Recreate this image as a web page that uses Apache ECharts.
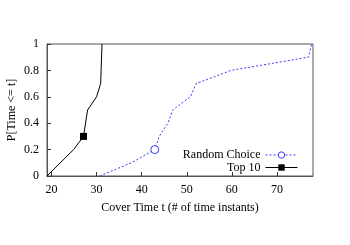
<!DOCTYPE html>
<html>
<head>
<meta charset="utf-8">
<script src="https://cdn.jsdelivr.net/npm/echarts@6/dist/echarts.min.js"></script>
<style>html,body{margin:0;padding:0;background:#fff;}#c{width:350px;height:245px;}</style>
</head>
<body>
<div id="c"></div>
<script>
var seriesNames = ['Random Choice', 'Top 10'];
var randX = [30.7, 37.7, 42.9, 43.9, 45.8, 46.9, 50.8, 52.1, 59.8, 77.0, 77.7];
var randY = [0, 0.1, 0.2, 0.3, 0.4, 0.5, 0.6, 0.7, 0.8, 0.9, 1.0];
var randMarker = 2;
var topX = [19, 24.9, 27.1, 28, 30, 30.9, 31.2];
var topY = [0, 0.2, 0.3, 0.5, 0.6, 0.7, 1.0];
var topMarker = 2;
var xTicks = [20, 30, 40, 50, 60, 70];
var xTitle = 'Cover Time t (# of time instants)';
var yTitle = 'P[Time <= t]';

function build(xs, ys, mk) {
  return xs.map(function (x, i) {
    var d = { value: [x, ys[i]] };
    if (i !== mk) d.symbol = 'none';
    return d;
  });
}
var font = 'Liberation Serif';
var chart = echarts.init(document.getElementById('c'), null, { renderer: 'canvas' });
chart.setOption({
  animation: false,
  backgroundColor: '#fff',
  textStyle: { fontFamily: font },
  grid: { left: 47, top: 44, width: 266, height: 132, containLabel: false, outerBoundsMode: 'none', show: true, borderColor: '#555', borderWidth: 1, backgroundColor: 'transparent' },
  legend: {
    orient: 'vertical', align: 'right', right: 52, top: 149, padding: 0,
    itemWidth: 32, itemHeight: 8, itemGap: 0.5,
    itemStyle: { borderWidth: 1 },
    lineStyle: { width: 1 },
    textStyle: { fontFamily: font, fontSize: 12, color: '#000' },
    data: seriesNames
  },
  xAxis: {
    type: 'value', min: 19, max: 78,
    name: xTitle, nameLocation: 'middle', nameGap: 26, nameMoveOverlap: false,
    nameTextStyle: { fontFamily: font, fontSize: 12, color: '#000' },
    axisLine: { show: true, lineStyle: { color: '#555', width: 1 } },
    axisTick: { show: true, inside: true, length: 4, customValues: xTicks, lineStyle: { color: '#333' } },
    axisLabel: { customValues: xTicks, margin: 8, fontFamily: font, fontSize: 12, color: '#000' },
    splitLine: { show: false }
  },
  yAxis: {
    type: 'value', min: 0, max: 1, interval: 0.2,
    name: yTitle, nameLocation: 'middle', nameGap: 29, nameMoveOverlap: false,
    nameTextStyle: { fontFamily: font, fontSize: 12, color: '#000' },
    axisLine: { show: true, lineStyle: { color: '#555', width: 1 } },
    axisTick: { show: true, inside: true, length: 4, lineStyle: { color: '#333' } },
    axisLabel: { margin: 8, fontFamily: font, fontSize: 12, color: '#000' },
    splitLine: { show: false }
  },
  series: [
    {
      name: seriesNames[0], type: 'line', data: build(randX, randY, randMarker),
      symbol: 'circle', symbolSize: 8, showSymbol: true,
      itemStyle: { color: '#fff', borderColor: '#3a3aff', borderWidth: 1 },
      lineStyle: { color: '#3a3aff', width: 1, type: [2, 2] }
    },
    {
      name: seriesNames[1], type: 'line', data: build(topX, topY, topMarker),
      symbol: 'rect', symbolSize: 7, showSymbol: true,
      itemStyle: { color: '#000' },
      lineStyle: { color: '#000', width: 1 }
    }
  ]
});
</script>
</body>
</html>
